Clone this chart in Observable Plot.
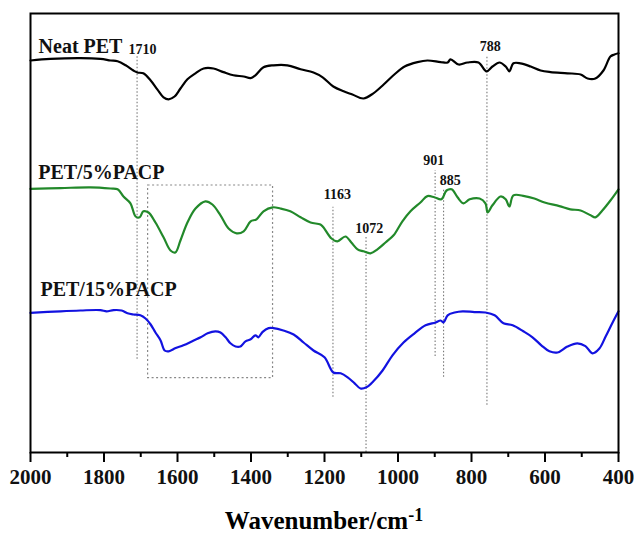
<!DOCTYPE html>
<html><head><meta charset="utf-8">
<script src="https://cdn.jsdelivr.net/npm/d3@7"></script>
<script src="https://cdn.jsdelivr.net/npm/@observablehq/plot@0.6"></script>
<style>
body{margin:0;background:#fff;}
#chart{position:absolute;left:0;top:0;}
#xtitle{position:absolute;left:0;width:648px;top:508px;text-align:center;font-family:"Liberation Serif","Times New Roman",serif;font-weight:bold;font-size:25px;line-height:25px;color:#000;}
#xtitle span{font-size:18px;position:relative;top:-8px;}
</style></head><body>
<div id="chart"></div>
<div id="xtitle">Wavenumber/cm<span>-1</span></div>
<script>
// Neat PET
const neatWave = [2000,1946,1864,1810,1782,1763,1741,1720,1709,1693,1673,1655,1638,1624,1608,1592,1573,1551,1529,1502,1475,1448,1420,1401,1388,1366,1339,1301,1265,1230,1205,1176,1148,1124,1094,1067,1039,1010,982,947,920,884,865,857,835,811,781,759,743,724,707,697,686,667,639,612,585,539,503,484,463,441,422,411,400];
const neatT = [98,98.4,98.6,98.4,98,97.8,96.8,95.5,95,94.8,93,90.8,88.8,88.3,89,91,93.3,94.8,96,96,95.1,94.3,94,93.6,94.3,96.3,96.8,96.8,95.8,95,93.8,91.5,90.3,89.5,88.5,89.8,92,94.5,96.5,97.6,98,97.6,97.5,98.3,97,97.5,97.5,95.3,96.5,97.5,96.5,95.3,97.3,97.3,96.5,95.5,95.1,94.8,94.5,93.5,93.5,95.5,99,99.5,99.8];
// PET/5%PACP
const p5Wave = [2000,1918,1837,1782,1763,1747,1728,1714,1703,1693,1679,1660,1638,1619,1606,1592,1573,1551,1524,1505,1483,1461,1439,1420,1401,1385,1366,1341,1320,1293,1265,1238,1211,1203,1181,1165,1143,1127,1110,1094,1075,1056,1034,1012,988,966,939,920,901,882,868,854,838,822,805,778,762,756,743,721,707,697,686,656,629,601,561,531,503,476,463,444,422,400];
const p5T = [65.9,66.1,66.3,66,65.8,64,62.3,59,58.8,60.3,60,57.5,53.8,50.5,50,53,57.5,61,62.8,62,59.3,56,54.8,55.3,57.8,58.3,60.3,61.3,61,60.3,58.8,57.5,57,56.3,53.5,52.8,54,52.5,50.8,50.3,49.8,50.8,52.5,54.3,57.8,60.3,62.5,64.1,63.8,63.3,65.5,65.8,63.8,62.3,63.3,63.5,62.3,60,61.8,64,63.3,61.5,64.3,64.1,63.5,62.5,61.6,60.8,60.5,59.3,58.8,60.5,63,65.8];
// PET/15%PACP
const p15Wave = [2000,1918,1864,1810,1793,1774,1752,1736,1720,1701,1687,1673,1660,1646,1635,1624,1605,1584,1556,1537,1518,1497,1483,1469,1456,1442,1429,1415,1401,1388,1380,1369,1352,1339,1312,1284,1257,1230,1200,1176,1156,1137,1118,1102,1086,1067,1042,1015,985,955,925,898,884,876,865,846,824,792,762,737,713,688,659,634,610,588,566,539,512,490,471,452,435,416,400];
const p15T = [34.9,35.3,35.5,35.6,35.3,35.6,35.5,34.8,34.5,34.3,33.5,32,30,28,25.5,25.3,26.1,26.8,28,28.8,29.8,30.3,30,28.8,27.3,26.5,26.5,27.8,28.3,29.3,28.8,30.1,31.1,31.1,30.5,29.5,27.5,25.5,23.8,20,19.8,18.8,17.3,16,16.3,17.8,20.5,24.3,27.5,29.8,31.8,32.5,33,32.5,34.3,35,35.3,35.1,35,34.3,32.3,31.8,30.3,28.8,26.8,25.3,25,26.5,27.3,26.6,24.8,26,29,32.5,35.3];

// curve names and label anchors
const curveNames = ["Neat PET","PET/5%PACP","PET/15%PACP"];
const curveColors = ["#000000","#22892a","#1212e0"];
const curveLabelWave = [1978,1979,1973];
const curveLabelT = [100,68.5,39.1];

// marker lines (drawn position, label text, label position, vertical extent)
const markerPos = [1710,1177,1087,899,876,758];
const markerText = ["1710","1163","1072","901","885","788"];
const markerLabelWave = [1695,1165,1078,903,858,749];
const markerLabelT = [99.7,63.5,54.8,71.8,67,100.5];
const markerTop = [99.3,61.3,54,70.5,66,99.3];
const markerBottom = [23.3,13.8,0,24,18.8,11.8];

// dotted box
const boxWave = [1680,1340];
const boxT = [66.75,18.6];

// axis ticks
const majorTicks = [2000,1800,1600,1400,1200,1000,800,600,400];
const minorTicks = [1900,1700,1500,1300,1100,900,700,500];

const serif = "'Liberation Serif','Times New Roman',serif";
const toRows = (w,t) => w.map((x,i)=>({w:x,t:t[i]}));
const series = [toRows(neatWave,neatT), toRows(p5Wave,p5T), toRows(p15Wave,p15T)];
const markers = markerPos.map((p,i)=>({pos:p, text:markerText[i], lw:markerLabelWave[i], lt:markerLabelT[i], top:markerTop[i], bottom:markerBottom[i]}));
const curveLabels = curveNames.map((n,i)=>({name:n, w:curveLabelWave[i], t:curveLabelT[i]}));

const plot = Plot.plot({
  width: 634,
  height: 495,
  marginLeft: 30,
  marginRight: 16,
  marginTop: 13,
  marginBottom: 43,
  style: {fontFamily: serif, background: "#fff"},
  x: {domain: [2000,400]},
  y: {domain: [0,109.75], axis: null},
  marks: [
    Plot.rect([{x1:boxWave[0],x2:boxWave[1],y1:boxT[0],y2:boxT[1]}], {x1:"x1",x2:"x2",y1:"y1",y2:"y2",fill:"none",stroke:"#888",strokeWidth:1.2,strokeDasharray:"2,2.5"}),
    Plot.ruleX(markers, {x:"pos", y1:"bottom", y2:"top", stroke:"#777", strokeWidth:1.1, strokeDasharray:"1.5,2"}),
    ...series.map((s,i)=>Plot.line(s, {x:"w", y:"t", stroke:curveColors[i], strokeWidth:2.2, curve:"catmull-rom"})),
    Plot.text(markers, {x:"lw", y:"lt", text:"text", fontSize:14, fontWeight:"bold", fill:"#111", lineAnchor:"bottom", textAnchor:"middle"}),
    Plot.text(curveLabels, {x:"w", y:"t", text:"name", fontSize:20, fontWeight:"bold", fill:"#111", lineAnchor:"bottom", textAnchor:"start"}),
    Plot.axisX({ticks: majorTicks, tickSize: 10, tickPadding: 7, strokeWidth: 2, tickFormat: d=>String(d), fontSize: 21, fontWeight: "bold", fill:"#111", label: null}),
    Plot.axisX({ticks: minorTicks, tickSize: 5, strokeWidth: 2, text: null, label: null}),
    Plot.frame({stroke:"#000", strokeWidth:2})
  ]
});
document.getElementById("chart").appendChild(plot);
</script>
</body></html>
